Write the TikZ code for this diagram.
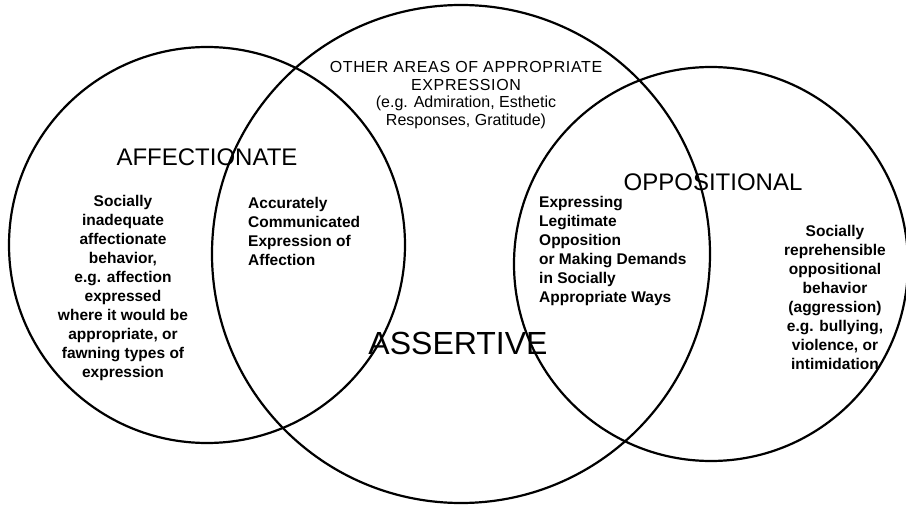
\documentclass[tikz,border=0pt]{standalone}
\usepackage{fontspec}
\setmainfont{Liberation Sans}
\newfontfamily\widecaps[LetterSpace=4]{Liberation Sans}
\usetikzlibrary{positioning}

\begin{document}
\begin{tikzpicture}[x=1pt,y=-1pt,
        ring/.style={line width=2.2pt},
        bigterm/.style={font=\fontsize{24}{28}\selectfont, inner sep=0pt},
        smallnote/.style={font=\bfseries\fontsize{15.5}{19}\selectfont, inner sep=0pt},
        topnote/.style={font=\fontsize{16}{17.5}\selectfont, align=center, inner sep=0pt}]

        \useasboundingbox (0,0) rectangle (906,508);

        % Tâm ba đường tròn
        \coordinate (affc) at (207,245); % Affectionate
        \coordinate (assc) at (461,254); % Assertive
        \coordinate (oppc) at (711,264); % Oppositional

        % Vẽ ba đường tròn
        \draw[ring] (affc) circle[radius=198pt];
        \draw[ring] (assc) circle[radius=249pt];
        \draw[ring] (oppc) circle[radius=197pt];

        % Tên các vùng
        \node[bigterm] (afflbl) at (207,157) {AFFECTIONATE};
        \node[bigterm] (opplbl) at (713,182) {OPPOSITIONAL};
        \node[bigterm, font=\fontsize{32}{36}\selectfont] (asslbl) at (458,343) {ASSERTIVE};

        % Phần trên của vòng giữa
        \node[topnote] (othernote) at (466,95) {{\widecaps OTHER AREAS OF APPROPRIATE}\\
                {\widecaps EXPRESSION}\\(e.g. Admiration, Esthetic\\Responses, Gratitude)};

        % Vùng trái
        \node[smallnote, align=center] (affnote) at (123,288) {Socially\\inadequate\\affectionate\\behavior,\\
                e.g. affection\\expressed\\where it would be\\appropriate, or\\fawning types of\\expression};

        % Giao trái -- giữa
        \node[smallnote, align=left, anchor=west] (affshare) at (248,231) {Accurately\\Communicated\\
                Expression of\\Affection};

        % Giao giữa -- phải
        \node[smallnote, align=left, anchor=west] (oppshare) at (539,251) {Expressing\\Legitimate\\Opposition\\
                or Making Demands\\in Socially\\Appropriate Ways};

        % Vùng phải
        \node[smallnote, align=center] (oppnote) at (835,297) {Socially\\reprehensible\\oppositional\\behavior\\
                (aggression)\\e.g. bullying,\\violence, or\\intimidation};

\end{tikzpicture}
\end{document}
